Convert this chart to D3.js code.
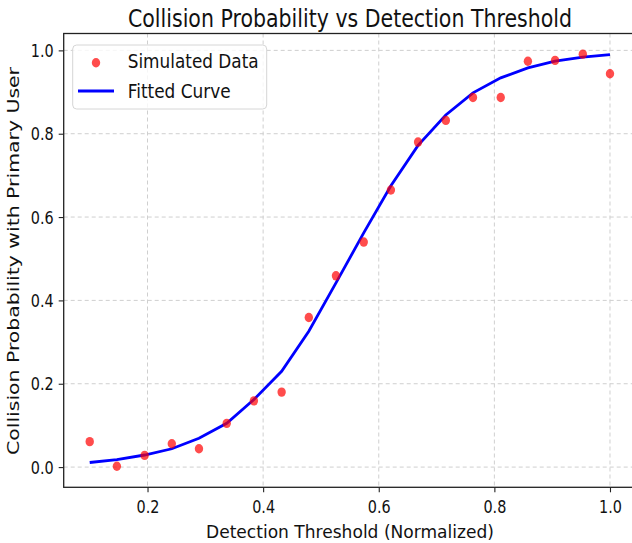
<!DOCTYPE html>
<html>
<head>
<meta charset="utf-8">
<script src="https://cdn.jsdelivr.net/npm/d3@7"></script>
<style>
  body { margin: 0; background: #fff; }
  text { font-family: "DejaVu Sans", sans-serif; fill: #111; }
</style>
</head>
<body>
<svg id="chart"></svg>
<script>
/* donnees */
const thresholds = [0.1, 0.147, 0.195, 0.242, 0.289, 0.337, 0.384, 0.432, 0.479, 0.526,
                    0.574, 0.621, 0.668, 0.716, 0.763, 0.811, 0.858, 0.905, 0.953, 1.0]
const simulated = [0.061, 0.002, 0.028, 0.056, 0.044, 0.105, 0.159, 0.180, 0.359, 0.459,
                   0.540, 0.665, 0.780, 0.832, 0.887, 0.887, 0.974, 0.976, 0.991, 0.944]
const fitted = [0.011, 0.018, 0.029, 0.044, 0.069, 0.105, 0.162, 0.230, 0.326, 0.442,
                0.562, 0.675, 0.772, 0.845, 0.898, 0.934, 0.958, 0.974, 0.984, 0.990]
const xTicks = [0.2, 0.4, 0.6, 0.8, 1.0]
const yTicks = [0.0, 0.2, 0.4, 0.6, 0.8, 1.0]

const width = 632, height = 543
const plot = {left: 63.7, right: 636, top: 33.5, bottom: 487.3}
const sx = 0.8   // texte compresse horizontalement

const svg = d3.select('#chart').attr('width', width).attr('height', height)

const xScale = d3.scaleLinear().domain([0.055, 1.045]).range([plot.left, plot.right])
const yScale = d3.scaleLinear().domain([-0.0485, 1.0405]).range([plot.bottom, plot.top])

/* grille */
const grid = svg.append('g')
grid.selectAll('.gx').data(xTicks).enter().append('line')
    .attr('x1', d => xScale(d)).attr('x2', d => xScale(d))
    .attr('y1', plot.top).attr('y2', plot.bottom)
grid.selectAll('.gy').data(yTicks).enter().append('line')
    .attr('x1', plot.left).attr('x2', plot.right)
    .attr('y1', d => yScale(d)).attr('y2', d => yScale(d))
grid.selectAll('line')
    .attr('stroke', '#cfcfcf').attr('stroke-width', 1).attr('stroke-dasharray', '4,3')

/* axes */
const xAxis = d3.axisBottom(xScale).tickValues(xTicks).tickFormat(d3.format('.1f'))
                .tickSize(5).tickSizeOuter(0)
const gx = svg.append('g').attr('transform', 'translate(0,' + plot.bottom + ')').call(xAxis)
gx.select('.domain').remove()
gx.selectAll('line').attr('stroke', '#222').attr('stroke-width', 1.1)
gx.selectAll('text')
    .attr('y', 13).attr('dy', '0.71em')
    .style('font-size', '18px')
    .attr('transform', 'scale(' + sx + ',1)')

const yAxis = d3.axisLeft(yScale).tickValues(yTicks).tickFormat(d3.format('.1f'))
                .tickSize(5).tickSizeOuter(0)
const gy = svg.append('g').attr('transform', 'translate(' + plot.left + ',0)').call(yAxis)
gy.select('.domain').remove()
gy.selectAll('line').attr('stroke', '#222').attr('stroke-width', 1.1)
gy.selectAll('text')
    .attr('x', -10 / sx).attr('dy', '0.34em')
    .style('font-size', '18px')
    .attr('transform', 'scale(' + sx + ',1)')

/* cadre */
svg.append('rect')
    .attr('x', plot.left).attr('y', plot.top)
    .attr('width', plot.right - plot.left).attr('height', plot.bottom - plot.top)
    .attr('fill', 'none').attr('stroke', '#222').attr('stroke-width', 1.3)

/* courbe ajustee */
const line = d3.line().x((d, i) => xScale(thresholds[i])).y(d => yScale(d))
svg.append('path')
    .datum(fitted)
    .attr('d', line)
    .attr('fill', 'none').attr('stroke', '#0000ff').attr('stroke-width', 2.8)

/* points simules */
svg.selectAll('.dot').data(simulated).enter().append('ellipse')
    .attr('class', 'dot')
    .attr('cx', (d, i) => xScale(thresholds[i]))
    .attr('cy', d => yScale(d))
    .attr('rx', 4.2).attr('ry', 4.7)
    .attr('fill', '#ff0000').attr('fill-opacity', 0.7)

/* titres */
svg.append('text')
    .attr('x', 350).attr('y', 27)
    .attr('text-anchor', 'middle')
    .style('font-size', '24px')
    .attr('textLength', 444).attr('lengthAdjust', 'spacingAndGlyphs')
    .text('Collision Probability vs Detection Threshold')

svg.append('text')
    .attr('x', 350).attr('y', 538)
    .attr('text-anchor', 'middle')
    .style('font-size', '18px')
    .attr('textLength', 288).attr('lengthAdjust', 'spacingAndGlyphs')
    .text('Detection Threshold (Normalized)')

svg.append('text')
    .attr('transform', 'rotate(-90)')
    .attr('x', -261).attr('y', 18.5)
    .attr('text-anchor', 'middle')
    .style('font-size', '16.5px')
    .attr('textLength', 388).attr('lengthAdjust', 'spacingAndGlyphs')
    .text('Collision Probability with Primary User')

/* legende */
const legend = svg.append('g')
legend.append('rect')
    .attr('x', 72.7).attr('y', 45).attr('width', 194).attr('height', 64).attr('rx', 4)
    .attr('fill', '#fff').attr('fill-opacity', 0.8)
    .attr('stroke', '#d6d6d6').attr('stroke-width', 1)
legend.append('ellipse')
    .attr('cx', 96).attr('cy', 62.7).attr('rx', 4.2).attr('ry', 4.7)
    .attr('fill', '#ff0000').attr('fill-opacity', 0.7)
legend.append('line')
    .attr('x1', 78).attr('x2', 114).attr('y1', 91).attr('y2', 91)
    .attr('stroke', '#0000ff').attr('stroke-width', 2.8)
legend.append('text')
    .attr('x', 127.7).attr('y', 68.3)
    .style('font-size', '20px')
    .attr('textLength', 131).attr('lengthAdjust', 'spacingAndGlyphs')
    .text('Simulated Data')
legend.append('text')
    .attr('x', 127.7).attr('y', 97.7)
    .style('font-size', '20px')
    .attr('textLength', 103).attr('lengthAdjust', 'spacingAndGlyphs')
    .text('Fitted Curve')
</script>
</body>
</html>
